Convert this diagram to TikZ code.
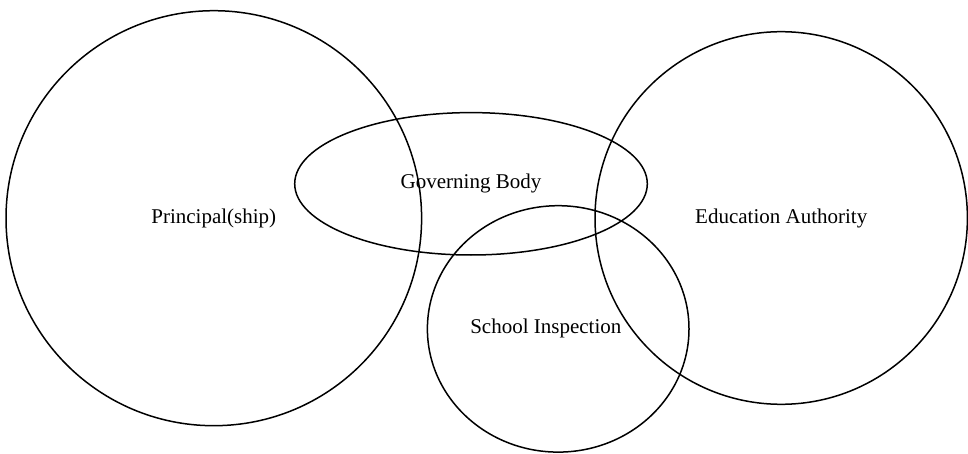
\documentclass[tikz,border=0pt]{standalone}
\usepackage{fontspec}
\setmainfont{Liberation Serif}
\usepackage{tikz}
\usetikzlibrary{shapes.geometric}
\usetikzlibrary{positioning}

\begin{document}
\begin{tikzpicture}[x=0.5pt, y=-0.5pt]

        \def\lw{0.75pt}

        % Style of the overlapping sets
        \tikzset{venn/.style={draw, ellipse, line width=\lw,
            inner sep=0pt, outer sep=0pt,
            font=\fontsize{10.5}{12}\selectfont}}

        \useasboundingbox (0, 0) rectangle (968, 454);

        % Scope used for the four sets
        \begin{scope}

            \node (P1) [venn, minimum width=207.8pt, minimum height=207.5pt]
            at (213.8, 218.2) {Principal(ship)};
            \node (G1) [venn, minimum width=176.3pt, minimum height=71.2pt]
            at (471, 183.8) {Governing Body};
            \node (S1) [venn, minimum width=130.8pt, minimum height=123.2pt]
            at (558.2, 328.9) {};
            \node (S2) [font=\fontsize{10.5}{12}\selectfont, inner sep=0pt]
            at ([xshift=-6.2pt]S1.center) {School Inspection};
            \node (E1) [venn, minimum width=186.2pt, minimum height=186.3pt]
            at (781.2, 218) {Education Authority};
        \end{scope}

\end{tikzpicture}
\end{document}
